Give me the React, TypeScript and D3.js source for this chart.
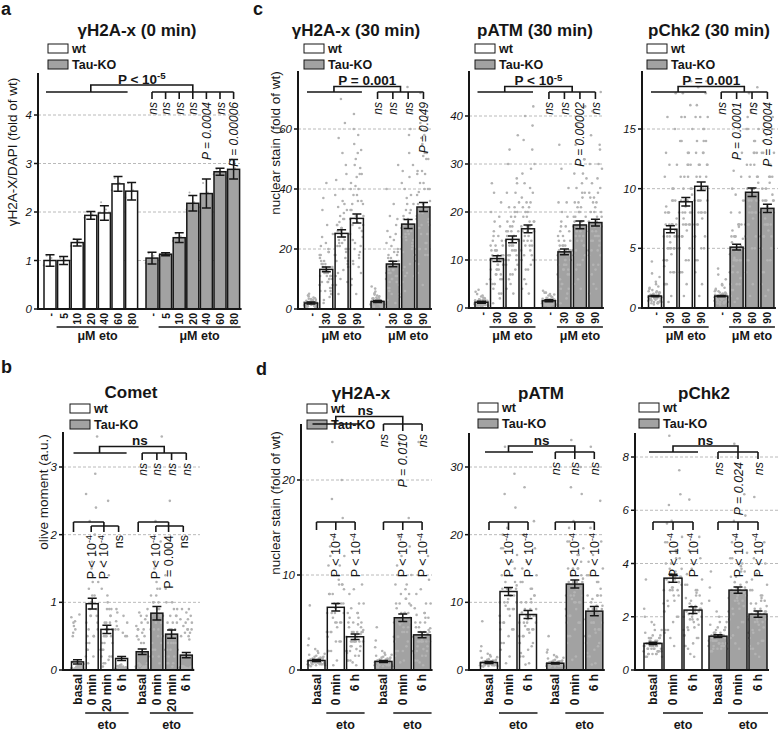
import React from "react";
import * as d3 from "d3";

const parse = (s: string): number[] => s.trim().split(/\s+/).map(Number);

// ---------- Panel a : γH2A-x (0 min) ----------
const aCats = ["-", "5", "10", "20", "40", "60", "80"];
const aWt = [1.0, 1.0, 1.37, 1.93, 1.98, 2.58, 2.43];
const aWtErr = [0.12, 0.08, 0.07, 0.08, 0.15, 0.15, 0.18];
const aKo = [1.05, 1.13, 1.47, 2.18, 2.38, 2.83, 2.88];
const aKoErr = [0.12, 0.03, 0.1, 0.16, 0.3, 0.07, 0.2];
const aWtDots = ["0.9 1.05 1.1", "0.92 1.0 1.05", "1.3 1.4 1.45", "1.88 1.95 2.0", "1.9 2.05 2.2", "2.45 2.6 2.7", "2.3 2.45 2.6"];
const aKoDots = ["0.95 1.1 1.15", "1.1 1.13 1.15", "1.4 1.5 1.55", "2.05 2.2 2.4", "2.1 2.4 2.6", "2.78 2.83 2.88", "2.7 2.9 3.05"];
const aTicks = [0, 1, 2, 3, 4];
const aTopP = "P < 10^-5";
const aKoP = ["ns", "ns", "ns", "ns", "P = 0.0004", "ns", "P = 0.00006"];

// ---------- Panel c : 30 min ----------
const cCats = ["-", "30", "60", "90"];
const c1Wt = [2.0, 13.2, 25.2, 30.2];
const c1WtErr = [0.3, 0.8, 1.2, 1.5];
const c1Ko = [2.5, 15.0, 28.3, 34.0];
const c1KoErr = [0.3, 0.9, 1.5, 1.5];
const c1WtDots = [
  "1.2 2.5 0.8 3.1 1.9 2.2 1.5 4.2 0.6 2.8 1.1 3.6 2.0 1.4 2.6 0.9 1.7 3.3 2.4 1.0 5.1 1.8 2.9 1.3 0.7 2.1 1.6 3.8 2.3 1.2 1.4 2.7 0.9 1.8 2.2 3.0 1.1 2.5 1.6 0.5 2.0 3.4 1.3 2.8 1.9 0.8 2.4 1.5 2.1 4.6",
  "8 12 15 5 22 18 10 3 14 28 9 11 6 17 20 13 7 42 16 4 12 25 9 33 11 14 6 19 2 10 11 15 7 13 18 9 14 5 12 21 10 16 8 13 24 6 15 11 19 37",
  "18 30 12 45 25 8 35 22 15 52 28 20 10 38 24 5 33 27 16 62 21 14 40 26 19 70 11 30 23 9 22 28 17 31 25 13 34 20 27 43 23 29 16 36 21 48 26 18 32 57",
  "25 40 15 45 30 8 45 20 35 52 28 12 50 33 18 60 26 38 10 47 22 31 58 16 36 5 42 27 55 24 29 35 21 41 30 14 38 26 44 33 19 48 28 36 23 53 31 40 17 65",
];
const c1KoDots = [
  "1.5 3.2 0.8 2.6 4.5 1.9 2.2 6.8 1.1 3.0 2.4 0.6 3.8 1.7 2.9 5.2 1.3 2.0 3.5 0.9 2.7 1.6 4.0 2.3 1.2 3.3 7.5 1.8 2.5 1.4 2.0 3.4 1.2 2.8 1.7 4.2 2.2 1.0 3.1 2.6 1.5 5.8 2.4 1.9 3.6 0.7 2.9 1.4 2.1 4.8",
  "10 14 6 20 16 3 25 12 8 35 18 11 5 22 15 9 48 13 7 28 17 4 19 12 30 10 14 2 24 16 13 17 9 21 12 15 7 19 14 26 11 16 5 23 13 18 10 40 15 31",
  "20 32 14 48 26 9 38 24 18 58 30 22 12 42 27 6 35 29 19 66 23 16 44 28 21 74 13 33 25 11 25 31 20 37 27 15 40 23 30 46 26 33 18 52 28 21 35 24 60 11",
  "30 45 20 50 35 12 50 25 40 58 32 18 55 38 22 62 30 42 15 52 28 36 52 20 40 8 46 33 60 28 33 39 25 46 31 18 42 29 51 35 22 57 34 40 27 64 32 45 20 72",
];
const c1Ticks = [0, 20, 40, 60];
const c1TopP = "P = 0.001";
const c1KoP = ["ns", "ns", "ns", "P = 0.049"];

const c2Wt = [1.2, 10.3, 14.3, 16.5];
const c2WtErr = [0.2, 0.6, 0.7, 0.8];
const c2Ko = [1.5, 11.7, 17.3, 17.8];
const c2KoErr = [0.2, 0.6, 0.8, 0.7];
const c2WtDots = [
  "0.8 1.5 0.5 1.2 2.4 1.0 0.7 1.8 1.3 0.4 2.9 1.1 0.9 1.6 0.6 1.4 5.0 1.0 0.8 2.0 1.2 0.5 1.7 0.9 1.3 0.7 3.4 1.1 0.6 1.5 0.9 1.3 0.6 1.7 1.1 2.2 0.8 1.4 1.0 0.5 1.9 1.2 0.7 2.6 1.0 1.5 0.4 1.3 0.9 3.8",
  "6 10 4 14 8 12 2 18 9 11 5 22 7 13 3 16 10 8 26 6 12 9 15 1 11 7 20 10 5 13 9 11 7 13 10 8 15 6 12 10 17 5 11 9 14 3 12 8 19 24",
  "10 15 6 20 12 24 8 17 14 3 30 11 16 9 21 13 36 7 18 12 5 22 15 10 26 14 4 19 11 16 13 16 10 19 14 12 21 9 17 15 24 7 14 18 11 27 13 16 20 33",
  "12 18 6 24 14 28 9 20 16 3 35 13 19 10 25 15 42 8 21 14 5 30 17 11 38 16 4 22 13 18 15 19 11 22 17 13 26 10 20 16 29 8 18 21 14 33 17 23 12 40",
];
const c2KoDots = [
  "1.0 1.8 0.6 1.4 2.6 1.2 0.8 2.1 1.6 0.5 3.2 1.3 1.1 1.9 0.7 1.5 2.8 1.2 0.9 2.3 1.4 0.6 1.8 1.0 1.6 0.8 3.6 1.3 0.7 1.7 1.2 1.6 0.8 2.0 1.4 2.5 1.0 1.7 1.3 0.6 2.2 1.5 0.9 2.9 1.1 1.8 0.5 1.4 1.2 3.2",
  "7 12 4 16 9 14 3 20 10 13 6 25 8 15 2 18 11 9 34 7 13 10 17 1 12 8 22 11 5 14 10 13 8 15 11 9 17 7 14 12 19 5 12 10 16 4 13 9 22 29",
  "12 18 8 24 15 28 10 21 17 4 34 13 20 11 26 16 42 9 22 15 6 27 18 12 31 17 5 23 14 19 16 19 13 22 17 14 25 11 20 18 28 9 16 21 15 31 17 19 24 38",
  "12 19 7 25 15 30 9 22 17 4 36 14 20 11 27 16 45 8 23 15 5 29 18 12 33 17 3 24 14 20 16 20 13 23 18 15 26 11 21 17 30 9 19 22 14 34 17 24 12 41",
];
const c2Ticks = [0, 10, 20, 30, 40];
const c2TopP = "P < 10^-5";
const c2KoP = ["ns", "ns", "P = 0.00002", "ns"];

const c3Wt = [1.0, 6.6, 8.9, 10.2];
const c3WtErr = [0.05, 0.3, 0.35, 0.35];
const c3Ko = [1.0, 5.1, 9.7, 8.35];
const c3KoErr = [0.05, 0.25, 0.35, 0.35];
const c3WtDots = [
  "0.6 1.0 0.4 1.3 0.8 1.6 0.5 1.1 0.9 2.2 0.7 1.2 0.3 1.4 0.9 3.9 0.6 1.0 0.8 1.8 1.1 0.5 1.3 0.7 2.6 0.9 1.0 0.4 1.5 0.8 0.7 1.1 0.5 1.2 0.9 1.4 0.6 1.0 0.8 1.7 0.4 1.1 0.9 2.0 0.7 1.3 0.5 1.0 0.8 2.9",
  "4 7 2 9 5 11 3 8 6 1 13 5 7 4 10 6 18 3 8 5 0.5 12 7 4 15 6 2 9 5 7 5 7 3 8 6 9 4 6.5 5.5 2 10 5 7.5 4.5 8.5 6 12 3.5 7 16",
  "6 9 3 12 7 14 4 10 8 2 16 7 9 5 13 8 19 4 11 7 1 15 9 6 17 8 3 12 7 10 7 9 5 11 8 12 6 10 8.5 3 13 7.5 9.5 6.5 14 8 16 5 11 18",
  "7 10 4 14 8 16 5 12 9 2 17 8 11 6 15 9 19 5 13 8 1 16 10 7 18 9 3 14 8 12 8 11 6 12 9 13 7 11 10 4 15 9 12 7.5 14 10 16 6 13 18.5",
];
const c3KoDots = [
  "0.6 1.1 0.4 1.2 0.8 1.5 0.5 1.0 0.9 2.0 0.7 1.3 0.3 1.4 0.9 3.3 0.6 1.1 0.8 1.7 1.0 0.5 1.2 0.7 2.4 0.9 1.0 0.4 1.4 0.8 0.7 1.0 0.5 1.3 0.9 1.2 0.6 1.1 0.8 1.6 0.4 1.0 0.9 1.9 0.7 1.2 0.5 1.1 0.8 2.8",
  "3 5 1.5 7 4 8 2 6 5 0.8 10 4 6 3 7 5 13 2 6 4 0.5 9 5 3 11 4 1 7 4 5 4 5.5 2.5 6 4.5 7 3.5 5 4.8 1.5 8 4.2 5.8 3 6.5 5.2 9.5 2 6.8 11.5",
  "7 10 4 13 8 15 5 11 9 2 16 8 10 6 14 9 18.5 5 12 8 1 15 10 7 17 9 3 13 8 11 8 10 6 12 9 13 7 11 9.5 4 14 8.5 10.5 7.5 15 9 16.5 6 12 18",
  "6 8 3 11 7 13 4 9 8 1.5 14 6 9 5 12 8 16 4 10 7 1 13 8 6 15 7 2 11 7 9 7 9 5 10 8 11 6 9.5 8.5 3 12 7.5 9 6.5 13 8 14.5 5 10.5 15.5",
];
const c3Ticks = [0, 5, 10, 15];
const c3TopP = "P = 0.001";
const c3KoP = ["ns", "P = 0.0001", "ns", "P = 0.00004"];

// ---------- Panel b : Comet ----------
const bCats = ["basal", "0 min", "20 min", "6 h"];
const bWt = [0.12, 0.98, 0.6, 0.17];
const bWtErr = [0.03, 0.08, 0.06, 0.03];
const bKo = [0.27, 0.84, 0.53, 0.22];
const bKoErr = [0.04, 0.1, 0.06, 0.04];
const bWtDots = [
  "0.02 0.05 0.01 0.08 0.03 0.12 0.04 0.6 0.02 0.07 0.7 0.01 0.05 0.03 0.82 0.02 0.06 0.04 0.5 0.01 0.03 0.09 0.02 0.65 0.01 0.04 0.02 0.06 0.72 0.03 0.01 0.55 0.05 0.02 0.78 0.03",
  "0.2 0.5 1.2 0.8 1.6 0.3 2.0 0.9 0.6 1.4 0.1 2.4 1.0 0.7 1.8 0.4 3.45 1.1 0.5 2.9 0.8 1.3 0.2 0.6 0.9 1.5 0.4 1.1 2.2 0.7 1.3 0.3 1.7 0.8 2.6 0.5",
  "0.3 0.6 0.1 0.9 0.5 1.2 0.2 0.7 0.4 1.0 0.05 0.8 0.6 0.3 1.4 0.5 0.2 0.9 0.4 0.7 0.1 0.6 2.5 0.3 0.5 0.7 0.2 0.9 0.4 0.6 1.1 0.3 0.8 0.5 1.6 0.15",
  "0.02 0.05 0.6 0.03 0.08 0.9 0.01 0.04 0.7 0.02 0.06 0.5 0.03 0.01 0.8 0.05 0.02 0.04 0.65 0.03 0.07 0.01 0.55 0.02 0.04 0.03 0.72 0.02 0.06 0.5 0.01 0.85 0.03 0.05 0.6 0.02",
];
const bKoDots = [
  "0.05 0.6 0.1 0.8 0.02 0.5 0.03 0.08 0.7 0.03 0.6 0.06 0.4 0.65 0.04 0.85 0.1 0.55 0.02 0.75 0.07 0.02 0.05 0.45 0.04 0.7 0.03 0.5 0.06 0.9 0.02 0.6 0.05 0.8 0.03 0.4",
  "0.2 0.6 1.0 0.4 1.3 0.8 0.1 1.6 0.5 0.9 0.3 1.9 0.7 1.1 0.2 0.6 3.45 0.9 0.4 1.2 0.3 0.8 0.5 1.0 0.7 1.1 0.3 0.9 1.5 0.5 1.2 0.2 0.8 2.2 0.6 1.0",
  "0.3 0.5 0.1 0.8 0.4 1.0 0.2 0.6 0.9 0.05 0.7 0.5 0.3 1.2 0.4 0.2 0.8 0.6 0.1 0.5 2.5 0.3 0.7 0.4 0.4 0.6 0.2 0.9 0.5 0.7 1.0 0.3 0.6 0.8 1.4 0.1",
  "0.03 0.6 0.05 0.8 0.02 0.5 0.9 0.04 0.7 0.01 0.06 0.55 0.03 0.75 0.02 0.65 0.05 0.85 0.01 0.45 0.04 0.02 0.6 0.03 0.04 0.7 0.02 0.5 0.05 0.6 0.03 0.9 0.01 0.55 0.04 0.75",
];
const bTicks = [0, 1, 2, 3];
const bTopP = "ns";
const bKoP = ["ns", "ns", "ns", "ns"];
const bLowWt = ["P < 10^-4", "P < 10^-4", "ns"];
const bLowKo = ["P < 10^-4", "P = 0.004", "ns"];

// ---------- Panel d ----------
const dCats = ["basal", "0 min", "6 h"];
const d1Wt = [1.0, 6.6, 3.5];
const d1WtErr = [0.1, 0.4, 0.3];
const d1Ko = [0.9, 5.5, 3.7];
const d1KoErr = [0.1, 0.4, 0.3];
const d1WtDots = [
  "0.6 1.0 0.8 1.3 0.5 1.6 0.9 1.1 0.7 2.0 0.4 1.2 0.8 2.6 1.0 0.6 1.4 0.9 6.8 0.7 1.1 0.5 1.8 0.8 1.2 0.9 3.3 0.6 1.0 0.7 0.8 1.1 0.6 1.4 0.9 1.2 0.7 1.0 1.5 0.5 1.3 0.9 1.7 0.8 1.1 0.6 2.2 1.0 0.7 1.2",
  "4 7 2 9 5 11 3 8 6 1 13 5 7 4 10 6 16 3 8 5 0.5 12 7 4 20 6 2 9 24 7 5 8 3 10 6 7 4 9 6.5 2 11 5.5 8.5 4.5 12 7 14 3.5 9.5 18",
  "2 4 1 5 3 6 1.5 4 3 0.5 8 2.5 4 2 6 3 9 1.5 5 3 0.8 7 3.5 2 4.5 3 1 5.5 2.5 4 3 4.5 2 5 3.5 6 2.5 4 3.2 1 7 3 4.2 2.2 5.5 3.8 8.5 1.8 4.8 6.5",
];
const d1KoDots = [
  "0.5 0.9 0.7 1.2 0.4 1.5 0.8 1.0 0.6 1.8 0.3 1.1 0.7 2.4 0.9 0.5 1.3 0.8 4.5 0.6 1.0 0.4 1.6 0.7 1.1 0.8 3.1 0.5 0.9 0.6 0.7 1.0 0.5 1.3 0.8 1.1 0.6 0.9 1.4 0.4 1.2 0.8 1.6 0.7 1.0 0.5 2.0 0.9 0.6 1.1",
  "3.5 6 2 8 4 9 2.5 7 5 1 11 4.5 6 3 8.5 5 13 2 7 4 0.8 10 6 3.5 16 5 1.5 7.5 24 5.5 4.5 6.5 3 8 5 6 3.5 7 5.5 2 9 4.8 6.8 4 10 6 12 3 7.5 14",
  "2 4 1 5.5 3 6.5 1.5 4.5 3 0.5 8 2.5 4 2 6 3 9.5 1.5 5 3 0.8 7 3.5 2 12 3 1 5.5 24 4 3 4.5 2 5 3.5 6 2.5 4.2 3.3 1 7 3 4.4 2.2 5.8 3.8 8.5 1.8 5 10",
];
const d1Ticks = [0, 10, 20];
const d1KoP = ["ns", "P = 0.010", "ns"];

const d2Wt = [1.1, 11.6, 8.2];
const d2WtErr = [0.15, 0.6, 0.6];
const d2Ko = [1.0, 12.7, 8.7];
const d2KoErr = [0.1, 0.6, 0.7];
const d2WtDots = [
  "0.7 1.1 0.9 1.4 0.6 1.8 1.0 1.2 0.8 2.2 0.5 1.3 0.9 2.8 1.1 0.7 1.5 1.0 7.2 0.8 1.2 0.6 2.0 0.9 1.3 1.0 3.5 0.7 1.1 0.8 0.9 1.2 0.7 1.5 1.0 1.3 0.8 1.1 1.6 0.6 1.4 1.0 1.9 0.9 1.2 0.7 2.4 1.1 0.8 1.3",
  "8 12 4 15 9 18 6 13 10 2 20 9 12 7 16 10 24 5 14 9 1 17 11 7 29 10 3 14 33 12 9 12 6 14 10 11 7 13 10.5 4 16 9.5 12.5 8 18 11 21 6 14 26",
  "5 8 2 11 6 13 3.5 9 7 1 15 6 8 4 12 7 18 3 10 6 0.8 14 8 5 22 7 2 10 27 8 6 8.5 4 10 7 9 5 11 7.5 2.5 12 6.5 9 5.5 13 8 16 4 10.5 20",
];
const d2KoDots = [
  "0.6 1.0 0.8 1.3 0.5 1.7 0.9 1.1 0.7 2.0 0.4 1.2 0.8 2.6 1.0 0.6 1.4 0.9 5.0 0.7 1.1 0.5 1.9 0.8 1.2 0.9 3.0 0.6 1.0 0.7 0.8 1.1 0.6 1.4 0.9 1.2 0.7 1.0 1.5 0.5 1.3 0.9 1.8 0.8 1.1 0.6 2.2 1.0 0.7 1.2",
  "9 13 5 16 10 19 7 14 11 2 21 10 13 8 17 11 26 6 15 10 1.5 18 12 8 30 11 4 15 34 13 10 13 7 15 11 12 8 14 11.5 5 17 10.5 13.5 9 19 12 22 7 15 27",
  "5 9 2 12 7 14 3.5 10 7 1 16 6 9 4 13 8 19 3 11 6 0.8 15 8 5 25 7 2 11 33 9 6 9 4 10.5 7.5 9.5 5 11 8 2.5 13 7 9.5 5.5 14 8.5 17 4 11 21",
];
const d2Ticks = [0, 10, 20, 30];
const d2KoP = ["ns", "ns", "ns"];

const d3Wt = [1.0, 3.45, 2.25];
const d3WtErr = [0.04, 0.15, 0.13];
const d3Ko = [1.27, 3.0, 2.1];
const d3KoErr = [0.05, 0.12, 0.12];
const d3WtDots = [
  "0.7 1.0 0.8 1.2 0.6 1.4 0.9 1.1 0.7 1.7 0.5 1.0 0.8 2.3 0.9 0.6 1.3 0.9 3.4 0.7 1.1 0.5 1.5 0.8 1.2 0.9 2.0 0.6 1.0 0.8 0.8 1.0 0.7 1.2 0.9 1.1 0.6 1.0 1.3 0.5 1.1 0.9 1.5 0.8 1.0 0.7 1.8 0.9 0.6 1.2",
  "2.5 3.5 1.5 4.2 3 4.8 2 3.8 3.2 0.9 5.5 2.8 3.6 2.2 4.5 3.3 6.6 1.8 4 3 1.2 5 3.4 2.6 7.5 3.1 1.4 4.4 8.8 3.5 2.8 3.4 2 4 3 3.7 2.4 3.5 3.1 1.5 4.5 3 3.8 2.6 4.8 3.3 5.6 2.2 4.2 6.2",
  "1.5 2.3 0.8 2.8 1.9 3.2 1.2 2.5 2 0.5 3.6 1.7 2.4 1.3 3 2.1 4.2 1 2.7 1.9 0.6 3.4 2.2 1.6 5 2 0.9 2.9 6.4 2.3 1.8 2.2 1.2 2.6 2 2.4 1.5 2.3 2.1 0.9 3 1.9 2.5 1.6 3.2 2.2 3.8 1.3 2.8 4.5",
];
const d3KoDots = [
  "0.9 1.3 1.1 1.5 0.8 1.7 1.2 1.4 1.0 2.0 0.7 1.3 1.1 2.6 1.2 0.9 1.6 1.2 3.7 1.0 1.4 0.8 1.8 1.1 1.5 1.2 3.1 0.9 1.3 1.0 1.0 1.3 0.9 1.5 1.1 1.4 0.8 1.2 1.6 0.7 1.3 1.1 1.8 1.0 1.2 0.9 2.2 1.1 0.8 1.4",
  "2.2 3 1.3 3.7 2.6 4.2 1.8 3.3 2.8 0.8 4.8 2.4 3.1 1.9 3.9 2.9 5.8 1.6 3.5 2.6 1 4.4 3 2.3 6.6 2.7 1.2 3.8 8.5 3 2.5 3 1.8 3.5 2.7 3.2 2.1 3.1 2.8 1.2 4 2.6 3.3 2.3 4.2 2.9 5 1.9 3.7 5.6",
  "1.4 2.1 0.8 2.6 1.8 3 1.1 2.3 1.9 0.5 3.4 1.6 2.2 1.2 2.8 2 4 1 2.5 1.8 0.6 3.2 2.1 1.5 4.8 1.9 0.9 2.7 6.5 2.2 1.7 2.1 1.1 2.5 1.9 2.3 1.4 2.2 2 0.8 2.8 1.8 2.4 1.5 3 2.1 3.6 1.2 2.6 4.2",
];
const d3Ticks = [0, 2, 4, 6, 8];
const d3KoP = ["ns", "P = 0.024", "ns"];
const dTopP = "ns";
const dLow = ["P < 10^-4", "P < 10^-4"];

const FONT = "'Liberation Sans', Arial, Helvetica, sans-serif";
const INK = "#161616";
const KO_FILL = "#a2a2a2";
const DOT = "#b3b3b3";

function Rich({ s }: { s: string }) {
  const parts = s.split("^");
  return (
    <>
      {parts[0]}
      {parts.length > 1 && (
        <tspan dy="-0.45em" fontSize="0.72em">
          {parts[1]}
        </tspan>
      )}
    </>
  );
}

function VText({ x, y, s, size, italic, bold }: any) {
  return (
    <text
      transform={`translate(${x},${y}) rotate(-90)`}
      textAnchor="end"
      fontSize={size}
      fontStyle={italic ? "italic" : "normal"}
      fontWeight={bold ? "bold" : "normal"}
      fill={INK}
    >
      <Rich s={s} />
    </text>
  );
}

function Panel({ c }: { c: any }) {
  const y = d3.scaleLinear().domain([0, c.tickV]).range([c.y0, c.tickY]);
  const x = d3.scaleLinear().domain([0, 1]).range([c.x0, c.x0 + c.step]);
  const n = c.cats.length;
  const hw = c.barW / 2;
  const groups = [
    { key: "wt", vals: c.wt, errs: c.wtErr, dots: c.wtDots, fill: "#ffffff", xs: c.cats.map((_: any, i: number) => x(i)) },
    { key: "ko", vals: c.ko, errs: c.koErr, dots: c.koDots, fill: KO_FILL, xs: c.cats.map((_: any, i: number) => x(i + c.koSlot)) },
  ];
  const lastX = groups[1].xs[n - 1] + hw;
  const wx = groups[0].xs;
  const kx = groups[1].xs;
  const wtMid = (wx[0] + wx[n - 1]) / 2;
  const koMid = (kx[0] + kx[n - 1]) / 2;
  const t = c.top;
  const sw = 1.6;

  const bracketPath =
    `M${wx[0] - 4},${t.yB}H${wx[n - 1] + (c.leftPad ?? 5)}` +
    `M${wtMid},${t.yB}V${t.yT}H${koMid}V${t.yB}` +
    `M${kx[0]},${t.yB}H${kx[n - 1]}` +
    kx.map((k: number) => `M${k},${t.yB}V${t.yB + 7}`).join("");

  const lowerEls: any[] = [];
  if (c.lower) {
    const L = c.lower;
    groups.forEach((g, gi) => {
      const xs = g.xs;
      const labels = gi === 0 ? L.wt : L.ko;
      if (L.type === "b") {
        const p1 = xs[0] - 4, p0 = xs[1] - 1, p20 = xs[2] - 3, p6 = xs[3] - 3;
        const d =
          `M${p1},${L.y1}H${p20}M${p1},${L.y1}V${L.yE}M${p20},${L.y1}V${L.yE}` +
          `M${p0},${L.y2}H${p6}M${p0},${L.y2}V${L.yE}M${p6},${L.y2}V${L.yE}`;
        lowerEls.push(<path key={"lb" + gi} d={d} fill="none" stroke={INK} strokeWidth={sw} />);
        [p0, p20, p6].forEach((px, k) =>
          lowerEls.push(<VText key={"ll" + gi + k} x={px + 4.5} y={L.yE + 3} s={labels[k]} size={12.5} />)
        );
      } else {
        const d =
          `M${xs[0]},${L.y1}H${xs[2]}` + xs.map((v: number) => `M${v},${L.y1}V${L.yE}`).join("");
        lowerEls.push(<path key={"lb" + gi} d={d} fill="none" stroke={INK} strokeWidth={sw} />);
        [xs[1], xs[2]].forEach((px, k) =>
          lowerEls.push(<VText key={"ll" + gi + k} x={px + 4.5} y={L.yE + 3} s={labels[k]} size={12.5} />)
        );
      }
    });
  }

  return (
    <g>
      <text x={c.titleX} y={c.titleY} textAnchor="middle" fontSize={17} fontWeight="bold" fill={INK}>
        {c.title}
      </text>
      <rect x={c.legX} y={c.legY} width={20} height={9} fill="#fff" stroke={INK} strokeWidth={1} />
      <rect x={c.legX} y={c.legY + 16} width={20} height={9} fill={KO_FILL} stroke={INK} strokeWidth={1} />
      <text x={c.legX + 24} y={c.legY + 8.5} fontSize={12.5} fontWeight="bold" fill={INK}>wt</text>
      <text x={c.legX + 24} y={c.legY + 24.5} fontSize={12.5} fontWeight="bold" fill={INK}>Tau-KO</text>
      {c.ticks.filter((v: number) => v > 0).map((v: number) => (
        <line key={"g" + v} x1={c.axisX} x2={c.gridRight} y1={y(v)} y2={y(v)} stroke="#a8a8a8" strokeWidth={0.8} strokeDasharray="3,2" />
      ))}
      {groups.map((g) =>
        g.vals.map((v: number, i: number) => (
          <rect key={g.key + "f" + i} x={g.xs[i] - hw} y={y(v)} width={c.barW} height={c.y0 - y(v)} fill={g.fill} />
        ))
      )}
      {groups.map((g) =>
        g.dots.map((s: string, i: number) =>
          parse(s).map((v, j) => (
            <circle
              key={g.key + "d" + i + "_" + j}
              cx={g.xs[i] + (((j * 0.618034) % 1) - 0.5) * c.barW * 1.05}
              cy={y(v)}
              r={c.dotR ?? 1.3}
              fill={DOT}
            />
          ))
        )
      )}
      {groups.map((g) =>
        g.vals.map((v: number, i: number) => (
          <rect key={g.key + "o" + i} x={g.xs[i] - hw} y={y(v)} width={c.barW} height={c.y0 - y(v)} fill="none" stroke={INK} strokeWidth={1.5} />
        ))
      )}
      {groups.map((g) =>
        g.vals.map((v: number, i: number) => {
          const e = g.errs[i];
          const cx = g.xs[i];
          const cw = Math.min(4.5, hw - 1);
          return (
            <path
              key={g.key + "e" + i}
              d={`M${cx},${y(v - e)}V${y(v + e)}M${cx - cw},${y(v + e)}H${cx + cw}M${cx - cw},${y(v - e)}H${cx + cw}`}
              stroke={INK}
              strokeWidth={1.5}
              fill="none"
            />
          );
        })
      )}
      <line x1={c.axisX} x2={c.axisX} y1={c.y0 + 1} y2={c.yTop} stroke={INK} strokeWidth={2} />
      <line x1={c.axisX - 1} x2={lastX + 2} y1={c.y0} y2={c.y0} stroke={INK} strokeWidth={2} />
      {c.ticks.map((v: number) => (
        <g key={"t" + v}>
          <line x1={c.axisX - 4} x2={c.axisX} y1={y(v)} y2={y(v)} stroke={INK} strokeWidth={1.5} />
          <text x={c.axisX - 6} y={y(v) + 4} textAnchor="end" fontSize={11.5} fontStyle="italic" fill={INK}>
            {v}
          </text>
        </g>
      ))}
      {c.yLabel && (
        <text
          transform={`translate(${c.yLabelX},${c.yLabelY}) rotate(-90)`}
          textAnchor="middle"
          fontSize={13.5}
          fill={INK}
        >
          {c.yLabel}
        </text>
      )}
      {groups.map((g) =>
        c.cats.map((s: string, i: number) => (
          <VText key={g.key + "c" + i} x={g.xs[i] + 4} y={c.y0 + 4} s={s} size={c.catSize} bold />
        ))
      )}
      {groups.map((g) => {
        const x1 = g.xs[1] - hw - 1;
        const x2 = g.xs[n - 1] + hw + 1;
        return (
          <g key={g.key + "grp"}>
            <line x1={x1} x2={x2} y1={c.groupLineY} y2={c.groupLineY} stroke={INK} strokeWidth={1.6} />
            <text x={(x1 + x2) / 2} y={c.groupTextY} textAnchor="middle" fontSize={12.5} fontWeight="bold" fill={INK}>
              {c.groupLabel}
            </text>
          </g>
        );
      })}
      <path d={bracketPath} fill="none" stroke={INK} strokeWidth={sw} />
      <text x={(wtMid + koMid) / 2 + (c.topDx ?? 0)} y={t.yT - 1.5} textAnchor="middle" fontSize={13.5} fontWeight="bold" fill={INK}>
        <Rich s={t.text} />
      </text>
      {kx.map((k: number, i: number) => (
        <VText key={"kp" + i} x={k + 4.5} y={t.yB + 10} s={t.labels[i]} size={c.pSize ?? 12} italic />
      ))}
      {lowerEls}
    </g>
  );
}

export default function App() {
  const panels = [
    {
      id: "a", title: "γH2A-x (0 min)", titleX: 137, titleY: 36, legX: 48, legY: 44,
      axisX: 38, y0: 309, tickV: 4, tickY: 115, yTop: 73, x0: 50, step: 13.6, koSlot: 7.5, barW: 12,
      gridRight: 240, ticks: aTicks, cats: aCats, wt: aWt, wtErr: aWtErr, ko: aKo, koErr: aKoErr,
      wtDots: aWtDots, koDots: aKoDots, dotR: 1.0, leftPad: -4,
      yLabel: "γH2A-X/DAPI (fold of wt)", yLabelX: 17, yLabelY: 152, catSize: 10.5,
      top: { yT: 85, yB: 92, text: aTopP, labels: aKoP },
      groupLabel: "μM eto", groupLineY: 327, groupTextY: 340,
    },
    {
      id: "c1", title: "γH2A-x (30 min)", titleX: 356, titleY: 36, legX: 304, legY: 44,
      axisX: 298, y0: 309, tickV: 60, tickY: 129, yTop: 71, x0: 311, step: 15.3, koSlot: 4.35, barW: 13,
      gridRight: 432, ticks: c1Ticks, cats: cCats, wt: c1Wt, wtErr: c1WtErr, ko: c1Ko, koErr: c1KoErr,
      wtDots: c1WtDots, koDots: c1KoDots,
      yLabel: "nuclear stain (fold of wt)", yLabelX: 280, yLabelY: 143, catSize: 10.5,
      top: { yT: 86.5, yB: 92, text: c1TopP, labels: c1KoP },
      groupLabel: "μM eto", groupLineY: 327, groupTextY: 340,
    },
    {
      id: "c2", title: "pATM (30 min)", titleX: 535, titleY: 36, legX: 475, legY: 44,
      axisX: 469, y0: 308, tickV: 40, tickY: 116, yTop: 71, x0: 481.5, step: 15.5, koSlot: 4.35, barW: 13,
      gridRight: 602, ticks: c2Ticks, cats: cCats, wt: c2Wt, wtErr: c2WtErr, ko: c2Ko, koErr: c2KoErr,
      wtDots: c2WtDots, koDots: c2KoDots, catSize: 10.5,
      top: { yT: 86.5, yB: 92, text: c2TopP, labels: c2KoP },
      groupLabel: "μM eto", groupLineY: 327, groupTextY: 340,
    },
    {
      id: "c3", title: "pChk2 (30 min)", titleX: 709, titleY: 36, legX: 647, legY: 44,
      axisX: 642, y0: 308, tickV: 15, tickY: 129, yTop: 71, x0: 655, step: 15.4, koSlot: 4.3, barW: 13,
      gridRight: 778, ticks: c3Ticks, cats: cCats, wt: c3Wt, wtErr: c3WtErr, ko: c3Ko, koErr: c3KoErr,
      wtDots: c3WtDots, koDots: c3KoDots, catSize: 10.5,
      top: { yT: 86.5, yB: 92, text: c3TopP, labels: c3KoP },
      groupLabel: "μM eto", groupLineY: 327, groupTextY: 340,
    },
    {
      id: "b", title: "Comet", titleX: 131, titleY: 398, legX: 70, legY: 404,
      axisX: 63, y0: 670, tickV: 3, tickY: 467, yTop: 432, x0: 77.5, step: 14.7, koSlot: 4.4, barW: 12,
      gridRight: 200, ticks: bTicks, cats: bCats, wt: bWt, wtErr: bWtErr, ko: bKo, koErr: bKoErr,
      wtDots: bWtDots, koDots: bKoDots, topDx: 8,
      yLabel: "olive moment (a.u.)", yLabelX: 48, yLabelY: 492, catSize: 12,
      top: { yT: 446.5, yB: 453, text: bTopP, labels: bKoP },
      lower: { type: "b", y1: 522, y2: 526, yE: 532, wt: bLowWt, ko: bLowKo },
      groupLabel: "eto", groupLineY: 713, groupTextY: 729,
    },
    {
      id: "d1", title: "γH2A-x", titleX: 361, titleY: 399, legX: 307, legY: 404,
      axisX: 301, y0: 670, tickV: 20, tickY: 480, yTop: 424, x0: 316.5, step: 19.3, koSlot: 3.47, barW: 17,
      gridRight: 432, ticks: d1Ticks, cats: dCats, wt: d1Wt, wtErr: d1WtErr, ko: d1Ko, koErr: d1KoErr,
      wtDots: d1WtDots, koDots: d1KoDots, pSize: 12.5, topDx: -4,
      yLabel: "nuclear stain (fold of wt)", yLabelX: 280, yLabelY: 503, catSize: 12,
      top: { yT: 416.5, yB: 424, text: dTopP, labels: d1KoP },
      lower: { type: "d", y1: 522, yE: 530, wt: dLow, ko: dLow },
      groupLabel: "eto", groupLineY: 713, groupTextY: 729,
    },
    {
      id: "d2", title: "pATM", titleX: 541, titleY: 399, legX: 478, legY: 403,
      axisX: 469, y0: 670, tickV: 30, tickY: 467, yTop: 433, x0: 489, step: 19.5, koSlot: 3.4, barW: 17,
      gridRight: 602, ticks: d2Ticks, cats: dCats, wt: d2Wt, wtErr: d2WtErr, ko: d2Ko, koErr: d2KoErr,
      wtDots: d2WtDots, koDots: d2KoDots, catSize: 12, pSize: 12.5,
      top: { yT: 446, yB: 452, text: dTopP, labels: d2KoP },
      lower: { type: "d", y1: 522, yE: 530, wt: dLow, ko: dLow },
      groupLabel: "eto", groupLineY: 713, groupTextY: 729,
    },
    {
      id: "d3", title: "pChk2", titleX: 704, titleY: 399, legX: 639, legY: 403,
      axisX: 635, y0: 670, tickV: 8, tickY: 457, yTop: 433, x0: 653, step: 20, koSlot: 3.25, barW: 18,
      gridRight: 778, ticks: d3Ticks, cats: dCats, wt: d3Wt, wtErr: d3WtErr, ko: d3Ko, koErr: d3KoErr,
      wtDots: d3WtDots, koDots: d3KoDots, catSize: 12, pSize: 12.5,
      top: { yT: 446, yB: 452, text: dTopP, labels: d3KoP },
      lower: { type: "d", y1: 522, yE: 530, wt: dLow, ko: dLow },
      groupLabel: "eto", groupLineY: 713, groupTextY: 729,
    },
  ];

  return (
    <svg
      width={778}
      height={731}
      viewBox="0 0 778 731"
      style={{ position: "absolute", left: 0, top: 0, background: "#fff" }}
      fontFamily={FONT}
    >
      <rect width={778} height={731} fill="#fff" />
      <text x={1} y={15} fontSize={18} fontWeight="bold" fill={INK}>a</text>
      <text x={253} y={15} fontSize={18} fontWeight="bold" fill={INK}>c</text>
      <text x={1} y={373} fontSize={18} fontWeight="bold" fill={INK}>b</text>
      <text x={256} y={375} fontSize={18} fontWeight="bold" fill={INK}>d</text>
      {panels.map((p) => (
        <Panel key={p.id} c={p} />
      ))}
    </svg>
  );
}
